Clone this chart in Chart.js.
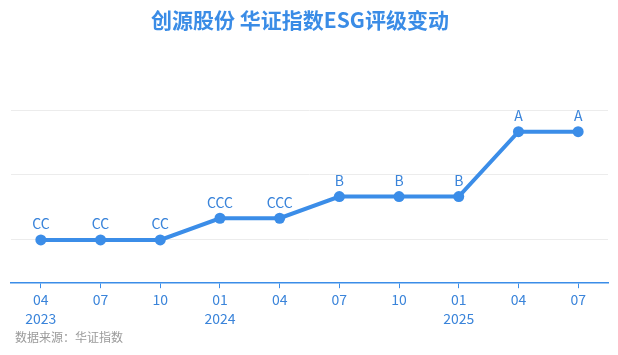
<!DOCTYPE html>
<html>
<head>
<meta charset="utf-8">
<script src="https://cdn.jsdelivr.net/npm/chart.js@4"></script>
<style>
  html, body { margin: 0; padding: 0; background: #fff; }
  #wrap { width: 618px; height: 355px; }
</style>
</head>
<body>
<div id="wrap"><canvas id="esgChart" width="618" height="355"></canvas></div>
<script>
// data
const months = ['04', '07', '10', '01', '04', '07', '10', '01', '04', '07'];
const years = ['2023', '', '', '2024', '', '', '', '2025', '', ''];
const ratings = ['CC', 'CC', 'CC', 'CCC', 'CCC', 'B', 'B', 'B', 'A', 'A'];
// rating ladder, lowest first (C = 1)
const ratingLevels = ['C', 'CC', 'CCC', 'B', 'BB', 'BBB', 'A', 'AA', 'AAA'];
const gridValues = [2, 5, 8];

const titleText = '创源股份 华证指数ESG评级变动';
const sourceText = '数据来源：华证指数';

const blue = '#3b8de8';
const textBlue = '#3a84da';
const font = '"Noto Sans CJK SC", "Noto Sans", sans-serif';

const labels = months.map((m, i) => years[i] ? [m, years[i]] : m);
const values = ratings.map(r => ratingLevels.indexOf(r) + 1);

// title, source and point labels drawn by hand
const extras = {
    id: 'extras',
    afterDatasetsDraw(chart) {
        const ctx = chart.ctx;
        const meta = chart.getDatasetMeta(0);
        ctx.save();
        ctx.fillStyle = textBlue;
        ctx.font = '14px ' + font;
        ctx.textAlign = 'center';
        ctx.textBaseline = 'middle';
        meta.data.forEach((pt, i) => {
            ctx.fillText(ratings[i], pt.x, pt.y - 16);
        });
        ctx.restore();
    },
    afterDraw(chart) {
        const ctx = chart.ctx;
        ctx.save();
        ctx.fillStyle = '#3a8ce6';
        ctx.font = 'bold 21px ' + font;
        ctx.textAlign = 'center';
        ctx.textBaseline = 'middle';
        ctx.fillText(titleText, 300, 20);

        ctx.fillStyle = '#9a9a9a';
        ctx.font = '12px ' + font;
        ctx.textAlign = 'left';
        ctx.fillText(sourceText, 15, 337);
        ctx.restore();
    }
};

new Chart(document.getElementById('esgChart'), {
    type: 'line',
    data: {
        labels: labels,
        datasets: [{
            data: values,
            borderColor: blue,
            backgroundColor: blue,
            borderWidth: 4,
            pointRadius: 5.5,
            pointHoverRadius: 5.5,
            pointBackgroundColor: blue,
            pointBorderWidth: 0,
            tension: 0
        }]
    },
    options: {
        responsive: false,
        animation: false,
        layout: { padding: { left: 11, right: 10, top: 110, bottom: 25 } },
        plugins: {
            legend: { display: false },
            tooltip: { enabled: false }
        },
        scales: {
            x: {
                offset: true,
                border: { color: blue, width: 1.5 },
                grid: { display: true, drawOnChartArea: false, drawTicks: true, tickLength: 5, color: blue, offset: false },
                ticks: { color: textBlue, font: { size: 14, family: font, lineHeight: 1.35 }, maxRotation: 0, autoSkip: false, padding: 2 }
            },
            y: {
                min: 0,
                max: 8,
                border: { display: false },
                grid: { color: '#ececec', lineWidth: 1, drawTicks: false },
                ticks: { display: false },
                afterBuildTicks(scale) {
                    scale.ticks = gridValues.map(v => ({ value: v }));
                },
                afterFit(scale) { scale.width = 0; }
            }
        }
    },
    plugins: [extras]
});
</script>
</body>
</html>
